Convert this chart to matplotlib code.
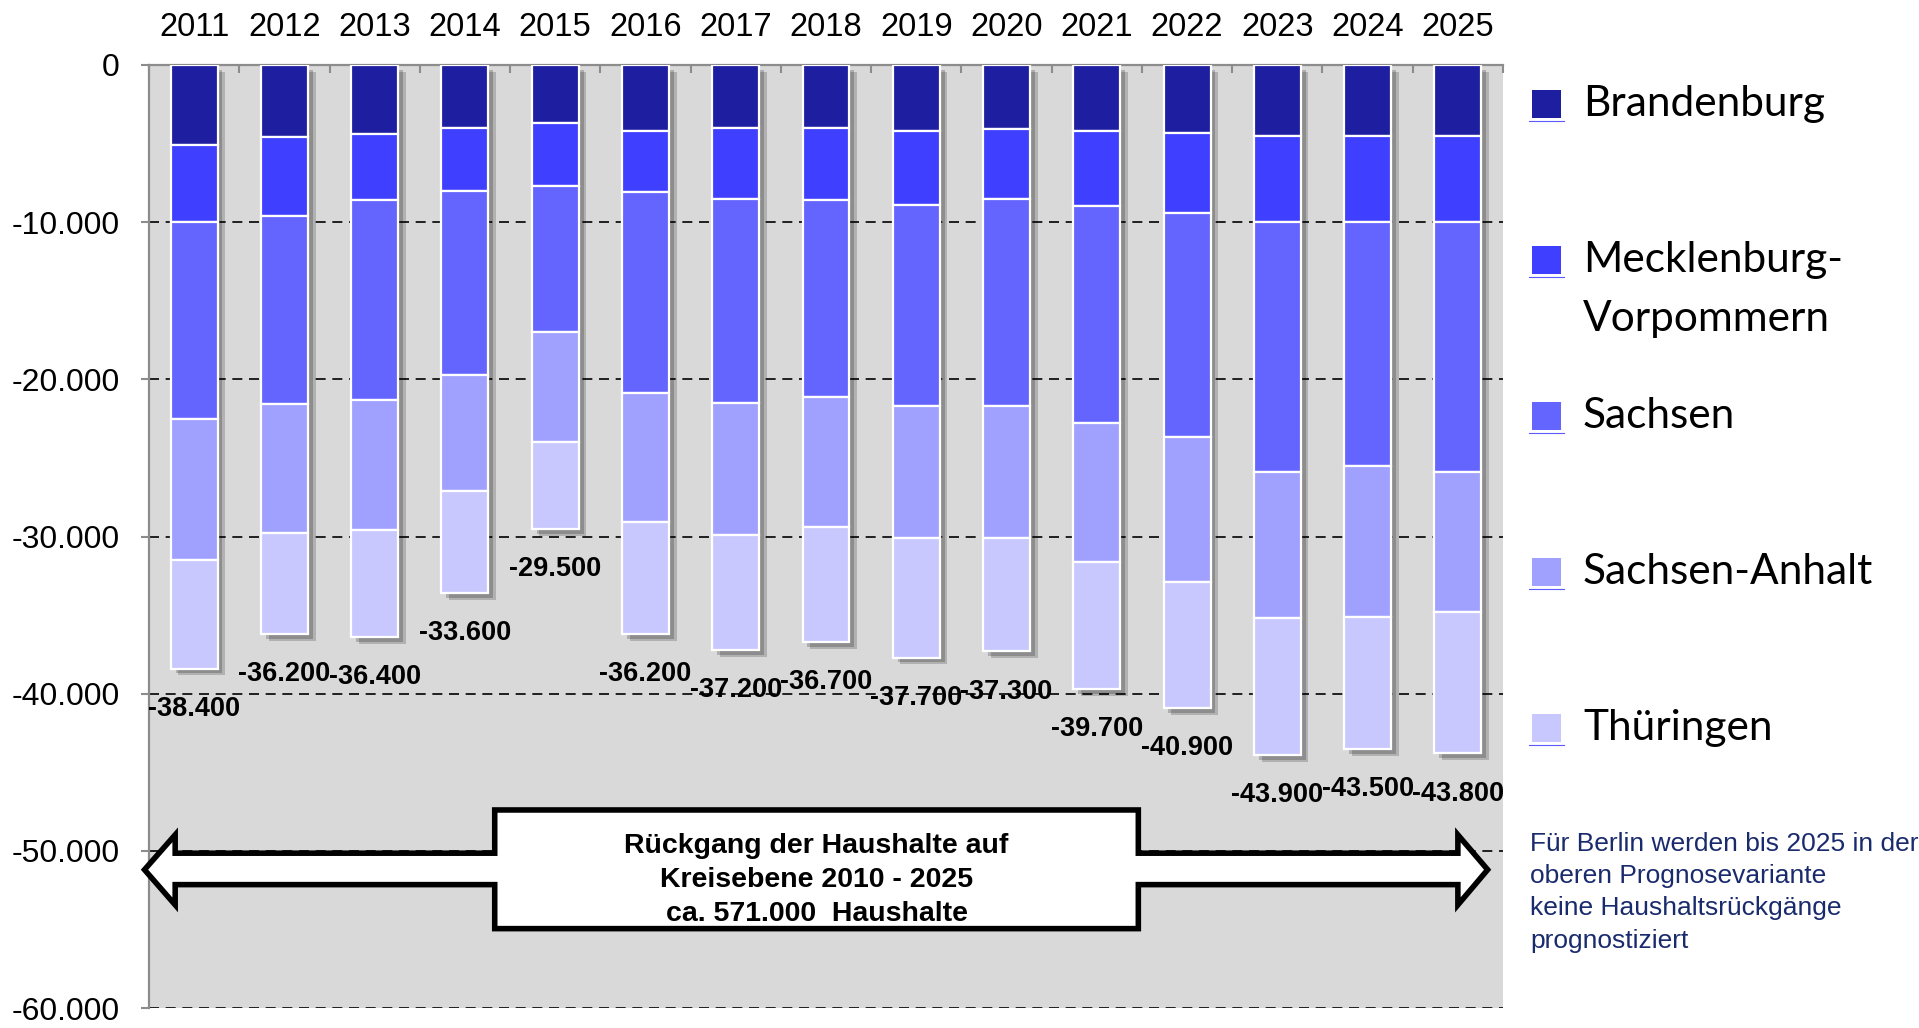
import numpy as np
import matplotlib.pyplot as plt
import matplotlib.patheffects as pe
from matplotlib.patches import Polygon, Rectangle
from matplotlib.lines import Line2D
from matplotlib.ticker import FuncFormatter

# Rückgang der Haushalte je Land und Jahr (Prognose, Kreisebene)
years = [2011, 2012, 2013, 2014, 2015, 2016, 2017, 2018, 2019, 2020,
         2021, 2022, 2023, 2024, 2025]
brandenburg = [-5100, -4600, -4400, -4000, -3700, -4200, -4000, -4000,
               -4200, -4100, -4200, -4300, -4500, -4500, -4500]
meck_vorp = [-4900, -5000, -4200, -4000, -4000, -3900, -4500, -4600,
             -4700, -4400, -4800, -5100, -5500, -5500, -5500]
sachsen = [-12500, -12000, -12700, -11700, -9300, -12800, -13000, -12500,
           -12800, -13200, -13800, -14300, -15900, -15500, -15900]
sachsen_anhalt = [-9000, -8200, -8300, -7400, -7000, -8200, -8400, -8300,
                  -8400, -8400, -8800, -9200, -9300, -9600, -8900]
thueringen = [-6900, -6400, -6800, -6500, -5500, -7100, -7300, -7300,
              -7600, -7200, -8100, -8000, -8700, -8400, -9000]

series = [brandenburg, meck_vorp, sachsen, sachsen_anhalt, thueringen]
names = ["Brandenburg", "Mecklenburg-\nVorpommern", "Sachsen",
         "Sachsen-Anhalt", "Thüringen"]
colors = ["#1E1EA0", "#3F3FFF", "#6464FF", "#A0A0FF", "#C8C8FF"]
yticks = [0, -10000, -20000, -30000, -40000, -50000, -60000]

arrow_text = "Rückgang der Haushalte auf\nKreisebene 2010 - 2025\nca. 571.000  Haushalte"
note_text = ("Für Berlin werden bis 2025 in der\noberen Prognosevariante\n"
             "keine Haushaltsrückgänge\nprognostiziert")


def de_fmt(v):
    return f"{v:,.0f}".replace(",", ".")


W, H = 1919, 1028
fig = plt.figure(figsize=(W / 100, H / 100), dpi=100)
fig.patch.set_facecolor("white")


def fx(px):
    return px / W


def fy(py):
    return 1 - py / H


ax = fig.add_axes([fx(149), fy(1008), (1503 - 149) / W, (1008 - 65) / H])
ax.set_facecolor("#D9D9D9")

x = np.arange(len(years))
shadow = [pe.SimplePatchShadow(offset=(5.5, -5), shadow_rgbFace="k", alpha=0.18),
          pe.SimplePatchShadow(offset=(3.5, -3.5), shadow_rgbFace="k", alpha=0.2),
          pe.Normal()]

bottom = np.zeros(len(years))
for vals, name, c in zip(series, names, colors):
    vals = np.array(vals)
    ax.bar(x, vals, width=0.52, bottom=bottom, color=c, edgecolor="white",
           linewidth=1.6, zorder=3, path_effects=shadow)
    bottom = bottom + vals

# Summen unter den Balken
for i, total in enumerate(bottom):
    ax.annotate(de_fmt(total), (i, total), xytext=(0, -29),
                textcoords="offset points", ha="center", va="center",
                fontsize=19.5, fontweight="bold", family="Liberation Sans",
                zorder=6)

ax.set_xlim(-0.5, len(years) - 0.5)
ax.set_ylim(-60000, 0)

# gestrichelte Hilfslinien
ax.hlines(yticks[1:], -0.5, len(years) - 0.5, colors="black",
          linestyles=(0, (6, 4)), linewidth=1.2, zorder=1)

# Achsen
for side in ["right", "bottom"]:
    ax.spines[side].set_visible(False)
for side in ["left", "top"]:
    ax.spines[side].set_color("#8C8C8C")
    ax.spines[side].set_linewidth(1.6)

ax.xaxis.tick_top()
ax.set_xticks(x)
ax.set_xticklabels([str(y) for y in years])
ax.set_xticks(np.arange(-0.5, len(years), 1), minor=True)
ax.tick_params(axis="x", which="major", length=0, pad=15.5, labelsize=23.5)
ax.tick_params(axis="x", which="minor", direction="in", length=6,
               width=1.5, color="#8C8C8C", top=True, bottom=False)
ax.set_yticks(yticks)
ax.yaxis.set_major_formatter(FuncFormatter(lambda v, p: de_fmt(v)))
ax.tick_params(axis="y", which="major", direction="out", length=6,
               width=1.5, color="#8C8C8C", pad=15, labelsize=23)
for lab in ax.get_xticklabels() + ax.get_yticklabels():
    lab.set_family("Liberation Sans")

# Doppelpfeil mit Textkasten
xl_tip, xl_back, xb_l, xb_r, xr_back, xr_tip = -0.55, -0.21, 3.33, 10.46, 14.0, 14.33
y_mid = -51200
s_top, s_bot = -50150, -52150
h_top, h_bot = -48980, -53440
b_top, b_bot = -47400, -54950
outline = [
    (xl_tip, y_mid), (xl_back, h_top), (xl_back, s_top), (xb_l, s_top),
    (xb_l, b_top), (xb_r, b_top), (xb_r, s_top), (xr_back, s_top),
    (xr_back, h_top), (xr_tip, y_mid), (xr_back, h_bot), (xr_back, s_bot),
    (xb_r, s_bot), (xb_r, b_bot), (xb_l, b_bot), (xb_l, s_bot),
    (xl_back, s_bot), (xl_back, h_bot),
]
ax.add_patch(Polygon(outline, closed=True, facecolor="white",
                     edgecolor="black", linewidth=4, joinstyle="miter",
                     clip_on=False, zorder=5))
ax.text((xb_l + xb_r) / 2, -51850, arrow_text, ha="center", va="center",
        fontsize=20.5, fontweight="bold", family="Liberation Sans",
        linespacing=1.38, zorder=6)

# Legende
leg_y = [104, 260, 416, 572, 728]
for name, c, yy in zip(names, colors, leg_y):
    fig.add_artist(Rectangle((fx(1532), fy(yy + 14)), 29 / W, 28 / H,
                             transform=fig.transFigure, facecolor=c,
                             edgecolor="none"))
    fig.add_artist(Line2D([fx(1529), fx(1564)], [fy(yy + 17), fy(yy + 17)],
                          transform=fig.transFigure, color="#5A5AFF",
                          linewidth=0.8))
    for k, line in enumerate(name.split("\n")):
        fig.text(fx(1583), fy(yy + 59 * k), line, va="center", ha="left",
                 fontsize=30.5, family="Lato", color="black")

fig.text(fx(1530), fy(832), note_text, va="top", ha="left", fontsize=19,
         family="Liberation Sans", color="#1A2B6D", linespacing=1.43)

fig.savefig("out.png", dpi=100)
